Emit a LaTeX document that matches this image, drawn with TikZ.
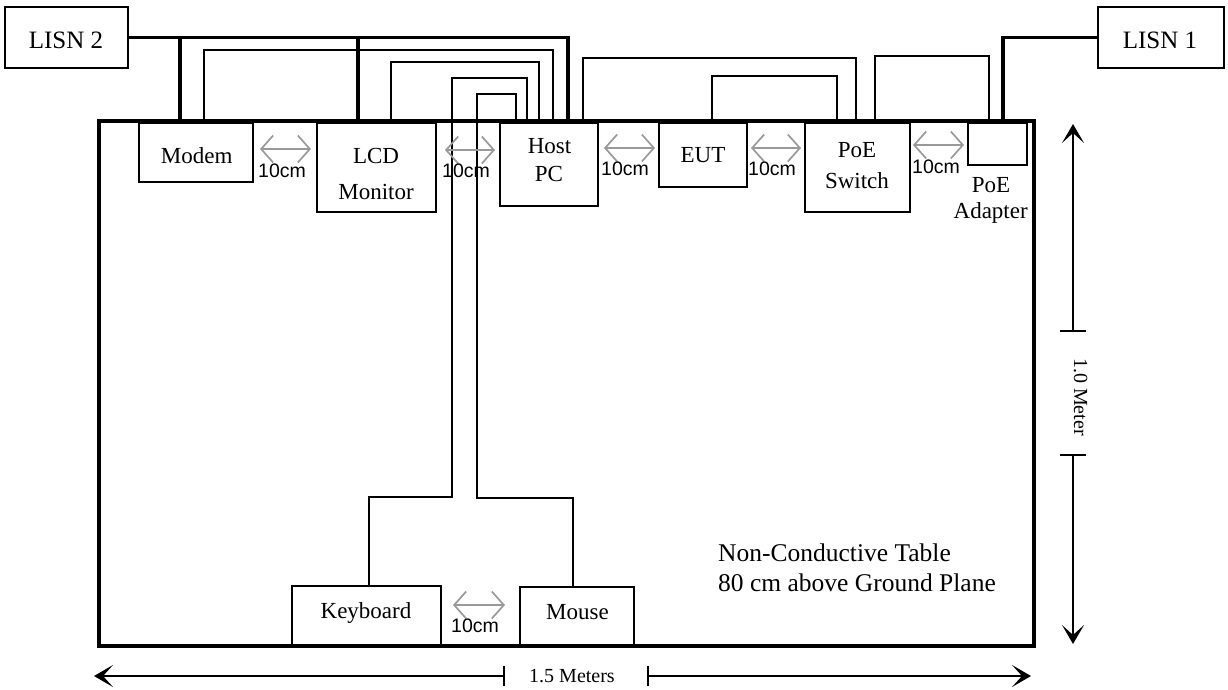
\documentclass[tikz,border=0pt]{standalone}
\usepackage{fontspec}
\setmainfont{Liberation Serif}
\newfontfamily\arialfont{Liberation Sans}
\usetikzlibrary{arrows.meta}
\begin{document}
\begin{tikzpicture}[x=1pt,y=-1pt,
  box/.style={draw, line width=1.6pt, inner sep=0pt, outer sep=0pt},
  tablebox/.style={draw, line width=3.2pt, inner sep=0pt, outer sep=0pt},
  lbl/.style={font=\fontsize{23}{27}\selectfont, inner sep=0pt, anchor=base},
  biglbl/.style={font=\fontsize{25}{29}\selectfont, inner sep=0pt, anchor=base},
  cmlbl/.style={font=\arialfont\fontsize{19.5}{22}\selectfont, inner sep=0pt, anchor=base},
  dimlbl/.style={font=\fontsize{20}{24}\selectfont, inner sep=0pt, anchor=base},
  tbllbl/.style={font=\fontsize{25.5}{29}\selectfont, inner sep=0pt, anchor=base west},
  wire/.style={line width=2pt},
  thickwire/.style={line width=3.5pt},
  gap/.style={draw=black!40, line width=1.7pt, {Straight Barb[length=12pt,width=27pt]}-{Straight Barb[length=12pt,width=27pt]}},
  dimarrow/.style={line width=1.6pt, {Bar[width=#1]}-{Stealth[length=19pt,width=22pt,inset=10pt]}}
]
\useasboundingbox (0,0) rectangle (1228,689);

% table
\node[tablebox, minimum width=935pt, minimum height=525pt] (table) at (566.5,383.5) {};

% boxes
\node[box, minimum width=123pt, minimum height=61pt] (lisn2) at (66.5,37.5) {};
\node[box, minimum width=126pt, minimum height=61pt] (lisn1) at (1161,37.5) {};
\node[box, minimum width=114pt, minimum height=59pt] (modem) at (196,152.5) {};
\node[box, minimum width=119pt, minimum height=89pt] (lcd) at (376.5,167.5) {};
\node[box, minimum width=98pt, minimum height=83pt] (host) at (549,164.5) {};
\node[box, minimum width=88pt, minimum height=64pt] (eut) at (703,155) {};
\node[box, minimum width=105pt, minimum height=89pt] (poesw) at (857.5,167.5) {};
\node[box, minimum width=59pt, minimum height=42pt] (adapter) at (997.5,144) {};
\node[box, minimum width=149pt, minimum height=60pt] (keyboard) at (366.5,616) {};
\node[box, minimum width=114pt, minimum height=59pt] (mouse) at (577,616.5) {};

% labels
\node[biglbl] (tl2) at (66,48) {LISN 2};
\node[biglbl] (tl1) at (1160,48) {LISN 1};
\node[lbl] (tmodem) at (196.7,163) {Modem};
\node[lbl] (tlcd1) at (376,163) {LCD};
\node[lbl] (tlcd2) at (376,199) {Monitor};
\node[lbl] (thost1) at (549.5,153) {Host};
\node[lbl] (thost2) at (549,181) {PC};
\node[lbl] (teut) at (703,162) {EUT};
\node[lbl] (tsw1) at (857,157) {PoE};
\node[lbl] (tsw2) at (857,188) {Switch};
\node[lbl] (tad1) at (991,192) {PoE};
\node[lbl] (tad2) at (990.7,218) {Adapter};
\node[lbl] (tkb) at (366,618) {Keyboard};
\node[lbl] (tms) at (577.5,619) {Mouse};
\node[tbllbl] (ttab1) at (718,561) {Non-Conductive Table};
\node[tbllbl] (ttab2) at (718,591) {80 cm above Ground Plane};

% wire attachment points
\coordinate (m1) at ([xshift=41pt]modem.north west);
\coordinate (m2) at ([xshift=65pt]modem.north west);
\coordinate (l1) at ([xshift=41pt]lcd.north west);
\coordinate (l2) at ([xshift=74pt]lcd.north west);
\coordinate (h1) at ([xshift=16pt]host.north west);
\coordinate (h2) at ([xshift=27pt]host.north west);
\coordinate (h3) at ([xshift=39pt]host.north west);
\coordinate (h4) at ([xshift=53pt]host.north west);
\coordinate (h5) at ([xshift=68pt]host.north west);
\coordinate (h6) at ([xshift=83pt]host.north west);
\coordinate (e1) at ([xshift=53pt]eut.north west);
\coordinate (s1) at ([xshift=32pt]poesw.north west);
\coordinate (s2) at ([xshift=51pt]poesw.north west);
\coordinate (s3) at ([xshift=70pt]poesw.north west);
\coordinate (a1) at ([xshift=21pt]adapter.north west);
\coordinate (a2) at ([xshift=35pt]adapter.north west);
\coordinate (k1) at ([xshift=77pt]keyboard.north west);
\coordinate (u1) at ([xshift=53pt]mouse.north west);

% thick power wires
\draw[thickwire] (lisn2.east) -| (h5);
\draw[thickwire] (m1) -- (m1 |- lisn2.east);
\draw[thickwire] (l1) -- (l1 |- lisn2.east);
\draw[thickwire] (lisn1.west) -| (a2);

% signal wires
\draw[wire] (m2) -- ++(0,-73) -| (h4);
\draw[wire] (l2) -- ++(0,-61) -| (h3);
\draw[wire] (k1) -- ++(0,-89) -- ++(83,0) -- ++(0,-419) -| (h2);
\draw[wire] (u1) -- ++(0,-89) -- ++(-96,0) -- ++(0,-404) -| (h1);
\draw[wire] (h6) -- ++(0,-65) -| (s2);
\draw[wire] (e1) -- ++(0,-47) -| (s1);
\draw[wire] (s3) -- ++(0,-67) -| (a1);

% 10cm gap markers
\draw[gap] (260,149) -- (311,149);
\draw[gap] (445,150) -- (495,150);
\draw[gap] (604,148) -- (655,148);
\draw[gap] (751,148) -- (801,148);
\draw[gap] (913,145) -- (964,145);
\draw[gap] (453,605) -- (505,605);
\node[cmlbl] (c1) at (282,177) {10cm};
\node[cmlbl] (c2) at (466,177) {10cm};
\node[cmlbl] (c3) at (625,175) {10cm};
\node[cmlbl] (c4) at (772,175) {10cm};
\node[cmlbl] (c5) at (936,173) {10cm};
\node[cmlbl] (c6) at (475,632) {10cm};

% dimensions
\draw[dimarrow=20pt] (505,676) -- (94,676);
\draw[dimarrow=20pt] (647,676) -- (1031,676);
\node[dimlbl] (w15) at (572,682) {1.5 Meters};
\draw[dimarrow=26pt] (1073,332) -- (1073,124);
\draw[dimarrow=26pt] (1073,454) -- (1073,644);
\node[dimlbl, rotate=-90] (h10) at (1074,397) {1.0 Meter};
\end{tikzpicture}
\end{document}
